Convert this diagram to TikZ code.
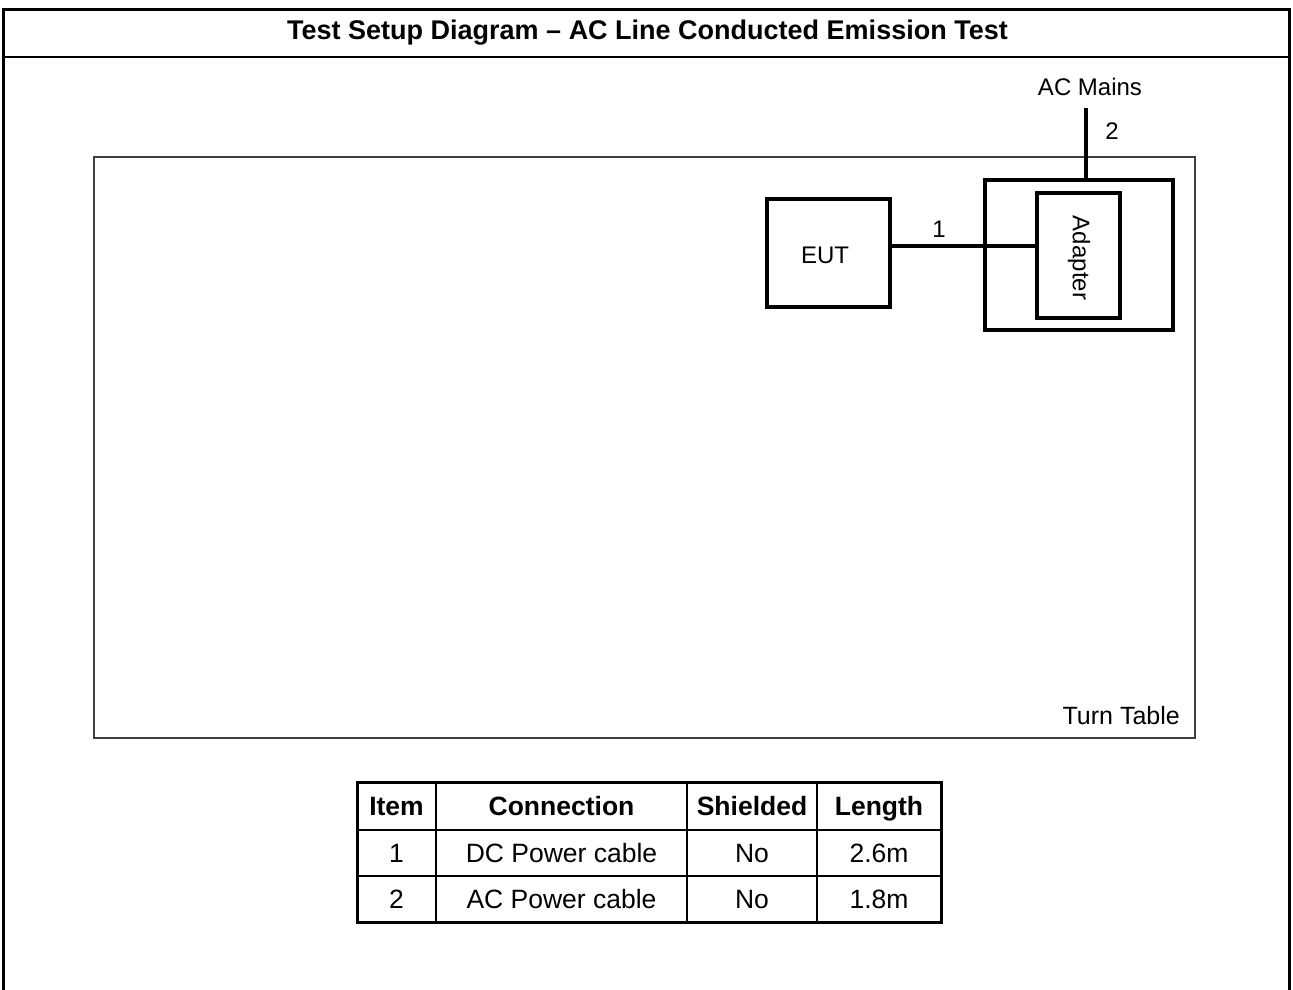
\documentclass[tikz,border=0pt]{standalone}
\usepackage{fontspec}
\setmainfont{Liberation Sans}
\begin{document}
\begin{tikzpicture}[x=1pt,y=-1pt,
  thickbox/.style={draw,line width=4pt,inner sep=0pt,outer sep=0pt},
  cable/.style={line width=4pt},
  lbl/.style={inner sep=0pt,font=\fontsize{24}{28}\selectfont},
  cell/.style={draw,line width=1.6pt,inner sep=0pt,outer sep=0pt,text height=19pt,text depth=0pt,font=\fontsize{26.5}{30}\selectfont},
  hcell/.style={cell,font=\fontsize{26.5}{30}\selectfont\bfseries},
  frameline/.style={line width=3pt}]
\useasboundingbox (0,0) rectangle (1293,990);
% outer frame (open at the bottom)
\coordinate (fbl) at (3.5,990);
\coordinate (ftl) at (3.5,9.5);
\coordinate (ftr) at (1289.5,9.5);
\coordinate (fbr) at (1289.5,990);
\coordinate (hl) at (3.5,57);
\coordinate (hr) at (1289.5,57);
\draw[frameline] (fbl) -- (ftl) -- (ftr) -- (fbr);
\draw[line width=2.5pt] (hl) -- (hr);
\node[inner sep=0pt,font=\fontsize{27}{30}\selectfont\bfseries] (title) at (647.5,33) {Test Setup Diagram – AC Line Conducted Emission Test};
% turn table
\node[draw=black!75,line width=1.5pt,minimum width=1101pt,minimum height=581pt,inner sep=0pt] (tt) at (644.5,447.5) {};
\node[inner sep=0pt,font=\fontsize{25}{28}\selectfont,anchor=east] (ttl) at (1180,716) {Turn Table};
% EUT and adapter
\node[thickbox,minimum width=123pt,minimum height=108pt] (eut) at (828.5,253) {};
\node[lbl] (eutl) at (825,255) {EUT};
\node[thickbox,minimum width=188pt,minimum height=150pt] (adbox) at (1079,255) {};
\node[thickbox,minimum width=83pt,minimum height=125pt] (adapter) at (1078.5,255.5) {};
\node[lbl,rotate=-90] (adl) at (1079,258) {Adapter};
\node[lbl] (acm) at (1090,87) {AC Mains};
\coordinate (acend) at (1086,108);
\draw[cable] (acend) -- (acend |- adbox.north);
\node[lbl] (n2) at (1112,131) {2};
\draw[cable] (eut.east |- 0,246) -- (adapter.west |- 0,246);
\node[lbl] (n1) at (939,229) {1};
% table
\node[hcell,minimum width=79pt,minimum height=48pt] (h1) at (396.5,806) {Item};
\node[hcell,minimum width=251pt,minimum height=48pt] (h2) at (561.5,806) {Connection};
\node[hcell,minimum width=130pt,minimum height=48pt] (h3) at (752,806) {Shielded};
\node[hcell,minimum width=124pt,minimum height=48pt] (h4) at (879,806) {Length};
\node[cell,minimum width=79pt,minimum height=46pt] (a1) at (396.5,853) {1};
\node[cell,minimum width=251pt,minimum height=46pt] (a2) at (561.5,853) {DC Power cable};
\node[cell,minimum width=130pt,minimum height=46pt] (a3) at (752,853) {No};
\node[cell,minimum width=124pt,minimum height=46pt] (a4) at (879,853) {2.6m};
\node[cell,minimum width=79pt,minimum height=46pt] (b1) at (396.5,899) {2};
\node[cell,minimum width=251pt,minimum height=46pt] (b2) at (561.5,899) {AC Power cable};
\node[cell,minimum width=130pt,minimum height=46pt] (b3) at (752,899) {No};
\node[cell,minimum width=124pt,minimum height=46pt] (b4) at (879,899) {1.8m};
\node[draw,line width=3pt,minimum width=584pt,minimum height=140pt,inner sep=0pt] (tbl) at (649,852) {};
\end{tikzpicture}
\end{document}
